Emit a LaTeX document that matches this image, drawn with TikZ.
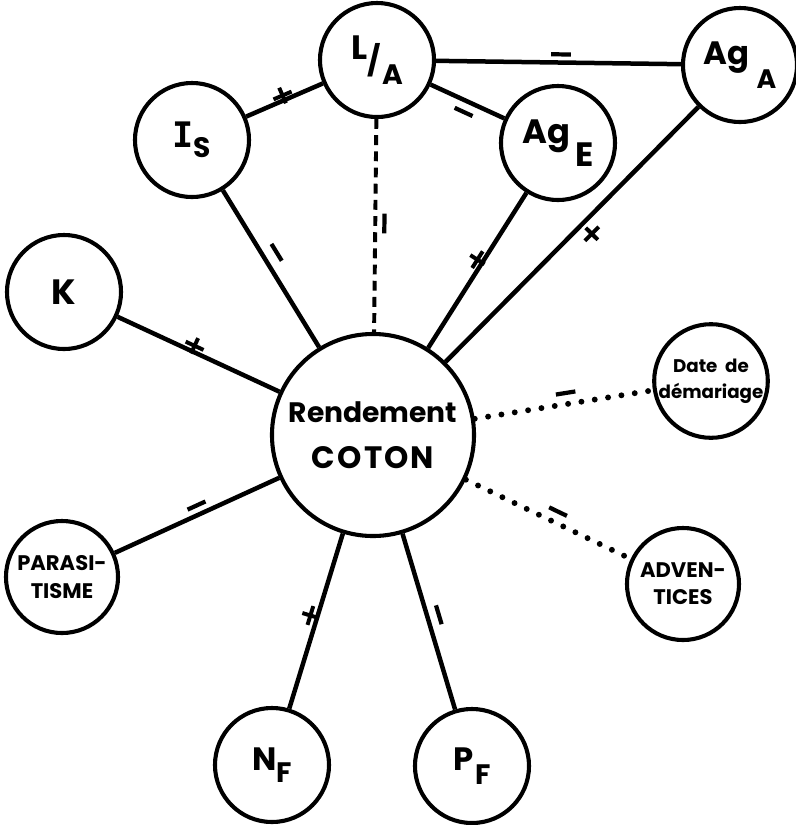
\documentclass[tikz,border=0pt]{standalone}
\usepackage{fontspec}
\setmainfont{Poppins}
\newfontfamily\serifI{DejaVu Sans Mono}
% sign marks set on the links
\newcommand\minusmk{\rule{14pt}{3pt}}
\newcommand\plusmk{\makebox[0pt]{\rule{14pt}{2.8pt}}\makebox[0pt]{\rule[-4.6pt]{2.8pt}{12pt}}}
\newcommand\fsz[2]{\fontsize{#1}{#2}\selectfont}
\tikzset{
  every node/.style={font=\bfseries},
  small/.style={circle, draw, line width=2.9pt, minimum size=2.85cm, inner sep=0pt},
  smaller/.style={small, minimum size=2.8cm},
  big/.style={small, minimum size=5.05cm},
  link/.style={line width=3.2pt},
  dashlink/.style={line width=2.8pt, dash pattern=on 7pt off 4.5pt},
  dotlink/.style={line width=4.2pt, line cap=round, dash pattern=on 0pt off 9.6pt},
  mk/.style={sloped, allow upside down, inner sep=0pt, outer sep=0pt},
}
\begin{document}
\begin{tikzpicture}[x=0.025cm, y=-0.025cm]
\useasboundingbox (0,0) rectangle (796,825);

% factors
\node[small] (LA)  at (377,60)  {\fsz{24}{24}L\kern0.5pt\raisebox{-9pt}{\fsz{21}{21}/}\kern0.5pt\raisebox{-18pt}{\fsz{20}{20}A}};
\node[small] (Is)  at (192,140) {\fsz{25}{25}{\serifI\bfseries I}\raisebox{-7pt}{\fsz{20}{20}S}};
\node[small] (AgE) at (558,143) {\fsz{24}{24}Ag\kern4pt\raisebox{-16pt}{E}};
\node[small] (AgA) at (740,65)  {\fsz{23}{23}Ag\kern5pt\raisebox{-17pt}{\fsz{19}{19}A}};
\node[small] (K)   at (64,292)  {\fsz{25}{25}K};
\node[big, align=center, font=\bfseries\fsz{20}{33}] (R) at (373,435)
  {Rendement\\{\fsz{22}{33}C\kern1.5pt O\kern1.5pt T\kern1.5pt O\kern1.5pt N}};
\node[smaller, align=center, font=\bfseries\fsz{15}{20}] (Par) at (62,577) {PARASI-\\TISME};
\node[smaller, align=center, font=\bfseries\fsz{13}{18.4}] (Date) at (711,381) {Date\ \ de\\démariage};
\node[smaller, align=center, font=\bfseries\fsz{15}{19}] (Adv) at (683,584) {ADVEN-\\TICES};
\node[small] (NF) at (272,765) {\fsz{23}{23}N\raisebox{-9pt}{\fsz{20}{20}F}};
\node[small] (PF) at (472,766) {\fsz{23}{23}P\kern1pt\raisebox{-10pt}{\fsz{20}{20}F}};

% links between factors
\draw[link] (Is) -- node[mk, pos=0.5, above=-2.5pt] {\plusmk} (LA);
\draw[link] (LA) -- node[mk, pos=0.51, above=4.3pt] {\minusmk} (AgA);
\draw[link] (LA) -- node[mk, pos=0.51, below=6.4pt] {\minusmk} (AgE);

% links to the yield
\draw[dashlink] (LA) -- node[mk, pos=0.49, above=5pt] {\minusmk} (R);
\draw[link] (Is)  -- node[mk, pos=0.44, above=8pt] {\minusmk} (R);
\draw[link] (AgE) -- node[mk, pos=0.45, below=-2pt] {\plusmk} (R);
\draw[link] (AgA) -- node[mk, pos=0.46, above=3.7pt] {\plusmk} (R);
\draw[link] (K)   -- node[mk, pos=0.46, above=-1.7pt] {\plusmk} (R);
\draw[link] (Par) -- node[mk, pos=0.52, above=5pt] {\minusmk} (R);
\draw[link] (NF)  -- node[mk, pos=0.52, above=-1pt] {\plusmk} (R);
\draw[link] (PF)  -- node[mk, pos=0.52, below=6.7pt] {\minusmk} (R);
\draw[dotlink] (R) -- node[mk, pos=0.52, above=6.4pt] {\minusmk} (Date);
\draw[dotlink] (R) -- node[mk, pos=0.53, above=6.4pt] {\minusmk} (Adv);
\end{tikzpicture}
\end{document}
